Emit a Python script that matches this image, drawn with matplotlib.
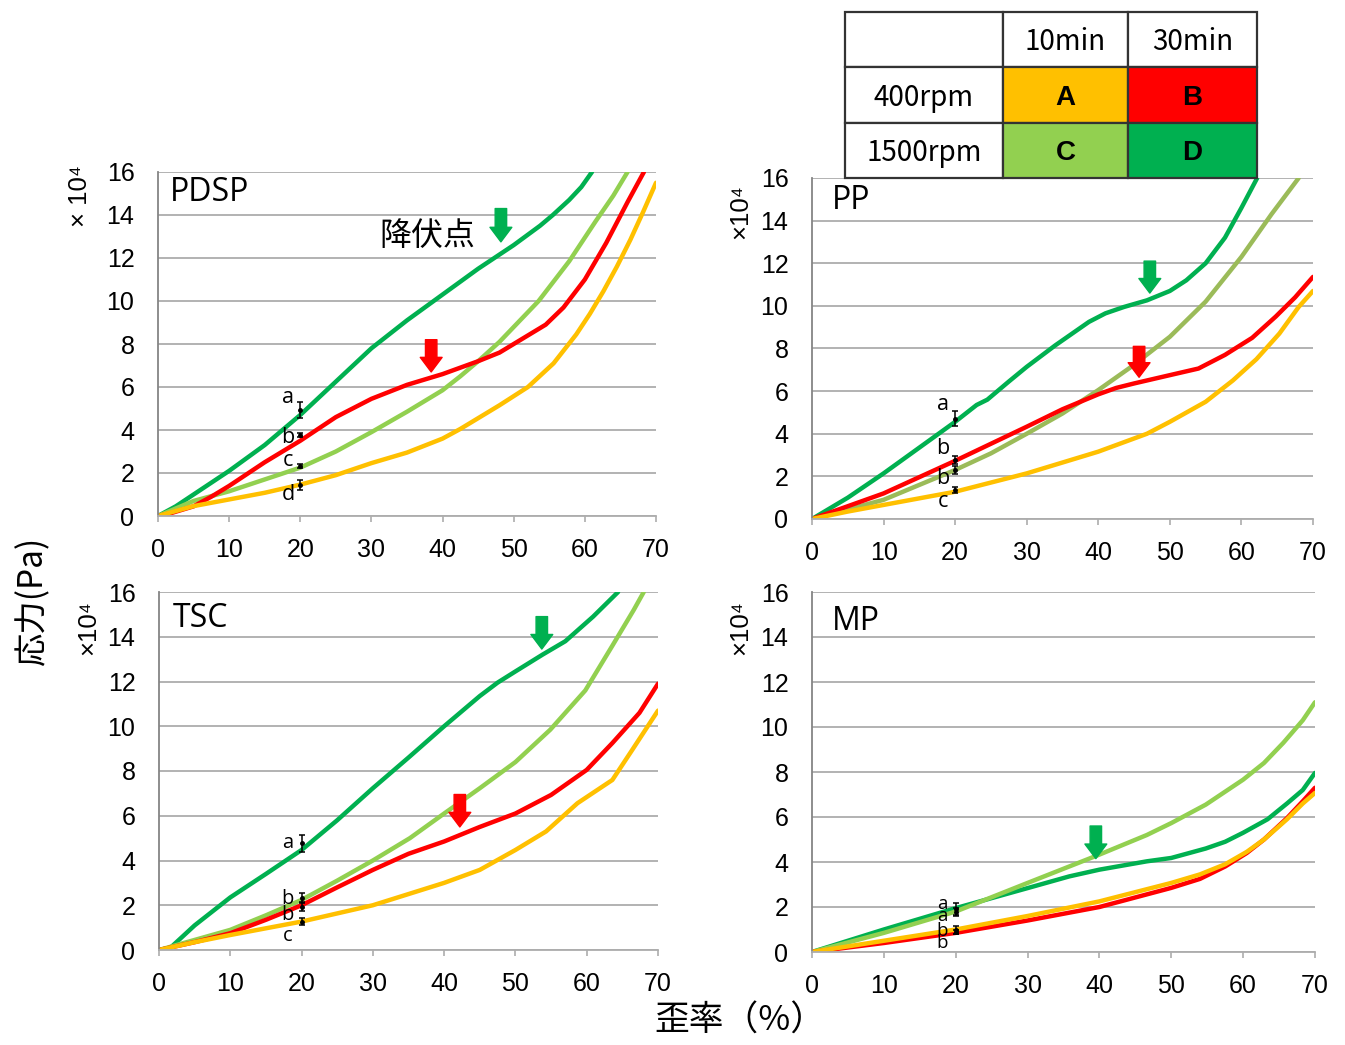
import matplotlib
matplotlib.use("Agg")
import matplotlib.pyplot as plt
from matplotlib.patches import Rectangle

plt.rcParams['font.family'] = ['Liberation Sans', 'DejaVu Sans']

COL_A = '#FFC000'
COL_B = '#FF0000'
COL_C = '#92D050'
COL_C_PP = '#9BBB59'
COL_D = '#00B050'

# ---------------- data (strain %, stress x10^4 Pa) ----------------
# PDSP
pdsp_D_x = [0, 2.5, 5, 10, 15, 20, 25, 30, 35, 40, 45, 50, 53.7, 55.5, 57.8, 59.5, 61]
pdsp_D_y = [0, 0.45, 1.0, 2.1, 3.3, 4.7, 6.25, 7.8, 9.1, 10.3, 11.5, 12.6, 13.5, 14.0, 14.7, 15.3, 16.0]
pdsp_B_x = [0, 2, 5, 7.5, 10, 15, 20, 25, 30, 35, 40, 45, 48, 51, 54.5, 57, 60, 63, 66, 68.3]
pdsp_B_y = [0, 0.15, 0.45, 0.9, 1.4, 2.5, 3.5, 4.6, 5.45, 6.1, 6.6, 7.2, 7.6, 8.2, 8.9, 9.7, 11.0, 12.7, 14.6, 16.0]
pdsp_C_x = [0, 5, 10, 15, 20, 25, 30, 35, 40, 42.5, 45, 48, 53.5, 57.8, 61.5, 64, 66]
pdsp_C_y = [0, 0.7, 1.15, 1.7, 2.25, 3.0, 3.9, 4.85, 5.85, 6.5, 7.2, 8.1, 10.0, 11.85, 13.7, 14.9, 16.0]
pdsp_A_x = [0, 5, 10, 15, 20, 25, 30, 35, 40, 42.5, 45, 48, 52, 55.6, 58.8, 60.7, 62.6, 64.5, 66.4, 68.2, 70]
pdsp_A_y = [0, 0.46, 0.77, 1.08, 1.46, 1.9, 2.46, 2.95, 3.6, 4.05, 4.55, 5.15, 6.0, 7.1, 8.45, 9.4, 10.45, 11.6, 12.85, 14.15, 15.5]

# PP
pp_D_x = [0, 5, 10, 15, 20, 23, 24.5, 27.5, 30, 34, 38.7, 41, 43.6, 46.8, 50, 52.3, 55, 57.7, 60, 62.2]
pp_D_y = [0, 1.0, 2.14, 3.35, 4.56, 5.35, 5.6, 6.45, 7.14, 8.15, 9.25, 9.65, 9.95, 10.26, 10.7, 11.2, 12.0, 13.2, 14.6, 16.0]
pp_B_x = [0, 5, 10, 20, 30, 35, 40, 42.5, 45, 50, 54, 57.7, 61.5, 64.8, 67.5, 70]
pp_B_y = [0, 0.6, 1.2, 2.73, 4.33, 5.15, 5.85, 6.15, 6.36, 6.75, 7.06, 7.7, 8.5, 9.5, 10.4, 11.36]
pp_C_x = [0, 5, 10, 20, 25, 30, 35, 40, 44.6, 50, 55, 60, 64.2, 68]
pp_C_y = [0, 0.45, 0.9, 2.3, 3.08, 4.0, 4.95, 6.05, 7.14, 8.55, 10.2, 12.3, 14.3, 16.0]
pp_A_x = [0, 5, 10, 20, 30, 40, 46.8, 50, 55, 58.8, 62.1, 65.3, 68, 70]
pp_A_y = [0, 0.35, 0.66, 1.28, 2.14, 3.16, 4.0, 4.56, 5.5, 6.5, 7.5, 8.7, 9.95, 10.7]

# TSC
tsc_D_x = [0, 1.6, 5, 10, 15, 20, 25, 30, 35, 40, 45, 47.5, 50, 53.8, 57, 60.9, 64.4]
tsc_D_y = [0, 0.1, 1.1, 2.35, 3.4, 4.47, 5.8, 7.23, 8.6, 10.0, 11.35, 11.95, 12.45, 13.2, 13.8, 14.9, 16.0]
tsc_C_x = [0, 5, 10, 15, 20, 25, 30, 35.2, 40, 45, 50, 54.9, 59.8, 63.6, 66.6, 68]
tsc_C_y = [0, 0.45, 0.9, 1.55, 2.24, 3.1, 4.0, 5.0, 6.1, 7.23, 8.4, 9.85, 11.6, 13.6, 15.2, 16.0]
tsc_B_x = [0, 5, 10, 15, 20, 25, 30, 35, 40, 45, 50, 55, 60, 63.6, 67.4, 70]
tsc_B_y = [0, 0.35, 0.75, 1.35, 2.0, 2.8, 3.58, 4.3, 4.85, 5.5, 6.1, 6.93, 8.05, 9.25, 10.6, 11.9]
tsc_A_x = [0, 5, 10, 20, 30, 40, 45, 50, 54.3, 58.7, 63.6, 66.4, 70]
tsc_A_y = [0, 0.35, 0.67, 1.27, 2.0, 3.0, 3.58, 4.47, 5.3, 6.56, 7.6, 8.95, 10.7]

# MP
mp_D_x = [0, 10, 20, 30, 35.8, 40, 46.6, 50, 54.8, 57.5, 60, 63.4, 66.1, 68.3, 70]
mp_D_y = [0, 1.0, 1.95, 2.84, 3.36, 3.66, 4.03, 4.18, 4.6, 4.9, 5.3, 5.9, 6.6, 7.2, 7.96]
mp_C_x = [0, 10, 20, 30, 40, 46.6, 50, 54.8, 60, 62.9, 65.6, 68.3, 70]
mp_C_y = [0, 0.85, 1.8, 3.07, 4.33, 5.2, 5.73, 6.55, 7.66, 8.4, 9.3, 10.3, 11.1]
mp_B_x = [0, 10, 20, 30, 40, 50, 54, 57.5, 60.5, 62.9, 66.1, 68.3, 70]
mp_B_y = [0, 0.4, 0.85, 1.4, 2.0, 2.85, 3.25, 3.8, 4.4, 5.0, 5.95, 6.7, 7.3]
mp_A_x = [0, 10, 20, 30, 40, 50, 54, 57.5, 60.5, 62.9, 66.1, 68.3, 70]
mp_A_y = [0, 0.5, 1.0, 1.6, 2.25, 3.07, 3.45, 3.9, 4.45, 5.0, 5.9, 6.6, 7.07]

# error bars at strain 20 %: (mean, half-range)
pdsp_err = [(4.93, 0.35), (3.77, 0.1), (2.33, 0.1), (1.44, 0.23)]
pp_err = [(4.7, 0.35), (2.77, 0.2), (2.3, 0.2), (1.36, 0.15)]
tsc_err = [(4.77, 0.37), (2.31, 0.22), (1.94, 0.2), (1.27, 0.16)]
mp_err = [(1.9, 0.3), (1.8, 0.15), (0.98, 0.18), (0.9, 0.1)]

# significance letters: (text, x, y)
pdsp_letters = [('a', 18.3, 5.5), ('b', 18.3, 3.67), ('c', 18.3, 2.6), ('d', 18.3, 0.98)]
pp_letters = [('a', 18.3, 5.35), ('b', 18.3, 3.33), ('b', 18.3, 1.88), ('c', 18.3, 0.8)]
tsc_letters = [('a', 18.0, 4.77), ('b', 18.0, 2.3), ('b', 18.0, 1.55), ('c', 18.0, 0.63)]
mp_letters = [('a', 18.1, 2.12), ('a', 18.1, 1.62), ('b', 18.1, 0.92), ('b', 18.1, 0.38)]

# yield point arrows: (x, y_tail, y_tip, colour)
pdsp_arrows = [(48.2, 14.3, 12.75, COL_D), (38.4, 8.2, 6.7, COL_B)]
pp_arrows = [(47.2, 12.1, 10.6, COL_D), (45.7, 8.1, 6.65, COL_B)]
tsc_arrows = [(53.7, 14.9, 13.45, COL_D), (42.2, 6.95, 5.5, COL_B)]
mp_arrows = [(39.5, 5.6, 4.15, COL_D)]

x_ticks = [0, 10, 20, 30, 40, 50, 60, 70]
y_ticks = [0, 2, 4, 6, 8, 10, 12, 14, 16]

# table legend
tbl_cols = ['', '10min', '30min']
tbl_rows = ['400rpm', '1500rpm']
tbl_cells = [['A', 'B'], ['C', 'D']]
tbl_colors = [[COL_A, COL_B], [COL_C, COL_D]]

W, H = 1345, 1045
fig = plt.figure(figsize=(W / 100, H / 100), dpi=100)


def px_axes(x0, y0, x1, y1):
    return fig.add_axes([x0 / W, 1 - y1 / H, (x1 - x0) / W, (y1 - y0) / H])


GRID = '#ADADAD'
SPINE = '#858585'
LETTER_FONT = ['Open Sans', 'DejaVu Sans']


def style(ax):
    ax.set_xlim(0, 70)
    ax.set_ylim(0, 16)
    ax.set_xticks(x_ticks)
    ax.set_yticks(y_ticks)
    ax.yaxis.grid(True, color=GRID, lw=1.3)
    ax.set_axisbelow(True)
    for s in ['top', 'right']:
        ax.spines[s].set_visible(False)
    ax.spines['left'].set_color(SPINE)
    ax.spines['left'].set_linewidth(1.3)
    ax.spines['bottom'].set_color(GRID)
    ax.spines['bottom'].set_linewidth(1.3)
    ax.tick_params(axis='y', length=0, pad=17, labelsize=18)
    ax.tick_params(axis='x', length=4.5, width=1.2, color=GRID, direction='out',
                   pad=11, labelsize=18)


def panel(ax, title, curves, errs, letters, arrows, ylab, ylab_pos, title_pos, lsize=15.5):
    style(ax)
    for xs, ys, c in curves:
        ax.plot(xs, ys, color=c, lw=3.2, solid_capstyle='round', solid_joinstyle='round')
    for (m, e) in errs:
        ax.errorbar([20], [m], yerr=[e], fmt='o', color='black', ms=2.5,
                    elinewidth=1.1, capsize=2.5, capthick=1.1, zorder=5)
    for t, x, y in letters:
        ax.text(x, y, t, fontsize=lsize, family=LETTER_FONT,
                ha='center', va='center', zorder=6)
    for x, yt, yh, c in arrows:
        ax.annotate('', xy=(x, yh), xytext=(x, yt),
                    arrowprops=dict(arrowstyle='simple,head_length=0.7,head_width=1.05,tail_width=0.55',
                                    mutation_scale=15, color=c, shrinkA=0, shrinkB=0),
                    zorder=6)
    ax.text(title_pos[0], title_pos[1], title, transform=ax.transAxes, fontsize=23,
            family=LETTER_FONT, ha='left', va='center')
    ax.text(ylab_pos[0], ylab_pos[1], ylab, transform=ax.transAxes, rotation=90,
            fontsize=18.5, ha='center', va='center')


ax1 = px_axes(158, 172, 656, 516)
panel(ax1, 'PDSP',
      [(pdsp_D_x, pdsp_D_y, COL_D), (pdsp_C_x, pdsp_C_y, COL_C),
       (pdsp_B_x, pdsp_B_y, COL_B), (pdsp_A_x, pdsp_A_y, COL_A)],
      pdsp_err, pdsp_letters, pdsp_arrows, '× 10⁴', (-0.157, 0.93), (0.024, 0.939))
ax1.text(37.8, 13.0, '降伏点', fontsize=23, family=['Noto Sans CJK JP', 'DejaVu Sans'],
         ha='center', va='center')

ax2 = px_axes(812, 178, 1313, 519)
panel(ax2, 'PP',
      [(pp_D_x, pp_D_y, COL_D), (pp_C_x, pp_C_y, COL_C_PP),
       (pp_B_x, pp_B_y, COL_B), (pp_A_x, pp_A_y, COL_A)],
      pp_err, pp_letters, pp_arrows, '×10⁴', (-0.144, 0.90), (0.04, 0.935))

ax3 = px_axes(159, 592, 658, 950)
panel(ax3, 'TSC',
      [(tsc_D_x, tsc_D_y, COL_D), (tsc_C_x, tsc_C_y, COL_C),
       (tsc_B_x, tsc_B_y, COL_B), (tsc_A_x, tsc_A_y, COL_A)],
      tsc_err, tsc_letters, tsc_arrows, '×10⁴', (-0.142, 0.90), (0.028, 0.927), lsize=14.5)

ax4 = px_axes(812, 592, 1315, 952)
panel(ax4, 'MP',
      [(mp_D_x, mp_D_y, COL_D), (mp_C_x, mp_C_y, COL_C),
       (mp_B_x, mp_B_y, COL_B), (mp_A_x, mp_A_y, COL_A)],
      mp_err, mp_letters, mp_arrows, '×10⁴', (-0.143, 0.90), (0.04, 0.917), lsize=13.5)

# axis titles
fig.text(33 / W, 1 - 600 / H, '応力(Pa)', rotation=90, fontsize=24,
         family=['Noto Sans CJK JP', 'DejaVu Sans'], ha='center', va='center')
fig.text(740 / W, 1 - 1021 / H, '歪率（%）', fontsize=25,
         family=['Noto Sans CJK JP', 'DejaVu Sans'], ha='center', va='center')

# legend table
tx0, ty0, tx1, ty1 = 845, 12, 1257, 178
tax = px_axes(tx0, ty0, tx1, ty1)
tax.set_xlim(0, tx1 - tx0)
tax.set_ylim(ty1 - ty0, 0)
tax.axis('off')
col_edges = [0, 158, 283, 412]
row_h = (ty1 - ty0) / 3
tfont = ['Noto Sans CJK JP', 'DejaVu Sans']
for r in range(3):
    for c in range(3):
        xa, xb = col_edges[c], col_edges[c + 1]
        ya = r * row_h
        fc = 'white'
        fam, wt = tfont, 'normal'
        if r == 0:
            txt = tbl_cols[c]
        elif c == 0:
            txt = tbl_rows[r - 1]
        else:
            txt = tbl_cells[r - 1][c - 1]
            fc = tbl_colors[r - 1][c - 1]
            fam, wt = ['Liberation Sans', 'DejaVu Sans'], 'bold'
        tax.add_patch(Rectangle((xa, ya), xb - xa, row_h, facecolor=fc,
                                edgecolor='#333333', lw=1.6, clip_on=False))
        if txt:
            tax.text((xa + xb) / 2, ya + row_h * 0.55, txt, fontsize=20, family=fam,
                     ha='center', va='center', fontweight=wt)

fig.savefig('out.png', dpi=100)
